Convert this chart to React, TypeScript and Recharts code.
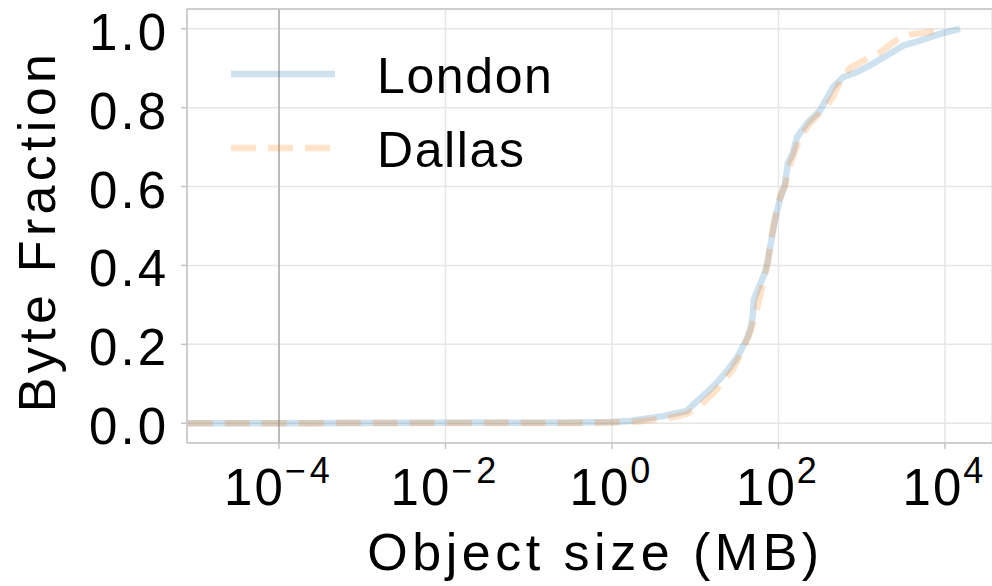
import React from "react";
import {
  LineChart,
  Line,
  XAxis,
  YAxis,
  CartesianGrid,
  ReferenceLine,
  Legend,
} from "recharts";

if (typeof document !== "undefined") {
  document.body.style.margin = "0";
}

const FONT = "'Liberation Sans', Arial, Helvetica, sans-serif";

// Object size (MB) and cumulative byte fraction
const londonSize = [
  8e-6, 0.41, 1.0, 1.64, 4.1, 7.9, 10.5, 13.8, 18.2, 24, 31.7, 37.5, 43, 46.8,
  49.4, 50.5, 56.8, 68.9, 74.8, 83.6, 90.8, 104, 120, 130, 149, 167, 220, 316,
  452, 596, 877, 1256, 2010, 3126, 5010, 8710, 15140,
];
const londonFrac = [
  0, 0.002, 0.003, 0.006, 0.018, 0.031, 0.056, 0.078, 0.103, 0.132, 0.166, 0.195,
  0.22, 0.246, 0.28, 0.313, 0.34, 0.382, 0.414, 0.473, 0.516, 0.566, 0.608, 0.66,
  0.685, 0.725, 0.76, 0.793, 0.852, 0.877, 0.89, 0.907, 0.932, 0.957, 0.97,
  0.987, 1.0,
];

const dallasSize = [
  8e-6, 0.41, 1.0, 2.0, 4.5, 8, 11.4, 18.2, 28.4, 37.5, 45.5, 52.2, 58, 72.8,
  83.6, 98.6, 110, 120, 130, 149, 181, 239, 361, 452, 580, 723, 1256, 1656, 3126,
  7180, 10000,
];
const dallasFrac = [
  0, 0.001, 0.002, 0.004, 0.012, 0.024, 0.044, 0.086, 0.137, 0.187, 0.23, 0.27,
  0.31, 0.397, 0.48, 0.558, 0.585, 0.6, 0.643, 0.675, 0.725, 0.76, 0.8, 0.827,
  0.877, 0.9, 0.928, 0.94, 0.983, 0.993, 1.0,
];

const xTicks = [1e-4, 1e-2, 1, 1e2, 1e4];
const yTicks = [0, 0.2, 0.4, 0.6, 0.8, 1.0];
const X_MIN = Math.pow(10, -5.105);
const X_MAX = Math.pow(10, 4.565);
const Y_MIN = -0.05;
const Y_MAX = 1.05;

const londonData = londonSize.map((s, i) => ({ size: s, frac: londonFrac[i] }));
const dallasData = dallasSize.map((s, i) => ({ size: s, frac: dallasFrac[i] }));

const SERIES = [
  { name: "London", data: londonData, color: "#1f77b4", dash: undefined as string | undefined },
  { name: "Dallas", data: dallasData, color: "#ff7f0e", dash: "25 12" },
];

const LINE_OPACITY = 0.22;
const LINE_WIDTH = 6.5;
const SPINE = "#c4c4c4";

const XTick = (props: any) => {
  const { x, y, payload } = props;
  const exp = Math.round(Math.log10(payload.value));
  const expStr = exp < 0 ? "\u2212" + String(-exp) : String(exp);
  return (
    <text
      x={x}
      y={y + 56}
      textAnchor="middle"
      fontFamily={FONT}
      fontSize={51}
      fill="#000"
    >
      <tspan letterSpacing={2}>10</tspan>
      <tspan dy={-22} fontSize={36} letterSpacing={4}>
        {expStr}
      </tspan>
    </text>
  );
};

const YTick = (props: any) => {
  const { x, y, payload } = props;
  return (
    <text
      x={x - 10}
      y={y + 21}
      textAnchor="end"
      fontFamily={FONT}
      fontSize={51}
      letterSpacing={3}
      fill="#000"
    >
      {Number(payload.value).toFixed(1)}
    </text>
  );
};

const XLabel = (props: any) => {
  const vb = props.viewBox || { x: 187, y: 443, width: 805, height: 143 };
  return (
    <text
      x={vb.x + vb.width / 2 + 6}
      y={vb.y + 127}
      textAnchor="middle"
      fontFamily={FONT}
      fontSize={52}
      letterSpacing={4.5}
      fill="#000"
    >
      Object size (MB)
    </text>
  );
};

const YLabel = (props: any) => {
  const vb = props.viewBox || { x: 0, y: 9, width: 187, height: 434 };
  const cx = 55;
  const cy = vb.y + vb.height / 2 + 5;
  return (
    <text
      x={cx}
      y={cy}
      transform={`rotate(-90, ${cx}, ${cy})`}
      textAnchor="middle"
      fontFamily={FONT}
      fontSize={52}
      letterSpacing={4.3}
      fill="#000"
    >
      Byte Fraction
    </text>
  );
};

const LegendContent = (props: any) => {
  const payload: any[] = props.payload || [];
  const rows = SERIES.filter((s) => payload.length === 0 || payload.some((p) => p.value === s.name));
  return (
    <svg width={420} height={180} style={{ display: "block" }}>
      {rows.map((s, i) => {
        const ly = 54 + 74 * i;
        return (
          <g key={s.name}>
            <line
              x1={31}
              x2={135}
              y1={ly}
              y2={ly}
              stroke={s.color}
              strokeOpacity={LINE_OPACITY}
              strokeWidth={LINE_WIDTH}
              strokeDasharray={s.dash}
            />
            <text
              x={177}
              y={ly + 19}
              fontFamily={FONT}
              fontSize={50}
              letterSpacing={1.6}
              fill="#000"
            >
              {s.name}
            </text>
          </g>
        );
      })}
    </svg>
  );
};

export default function App() {
  return (
    <div style={{ width: 992, height: 586, background: "#fff" }}>
      <LineChart
        width={992}
        height={586}
        margin={{ top: 9, right: 0, bottom: 0, left: 0 }}
      >
        <CartesianGrid stroke="#e6e6e6" strokeWidth={1.5} />
        <XAxis
          dataKey="size"
          type="number"
          scale="log"
          domain={[X_MIN, X_MAX]}
          allowDataOverflow
          ticks={xTicks}
          tick={<XTick />}
          height={143}
          axisLine={{ stroke: SPINE, strokeWidth: 1.5 }}
          tickLine={{ stroke: SPINE, strokeWidth: 1.5 }}
          tickSize={6}
          tickMargin={0}
          label={<XLabel />}
        />
        <YAxis
          type="number"
          domain={[Y_MIN, Y_MAX]}
          allowDataOverflow
          ticks={yTicks}
          tick={<YTick />}
          width={187}
          axisLine={{ stroke: SPINE, strokeWidth: 1.5 }}
          tickLine={{ stroke: SPINE, strokeWidth: 1.5 }}
          tickSize={6}
          tickMargin={2}
          label={<YLabel />}
        />
        <ReferenceLine x={1e-4} stroke="#ababab" strokeWidth={1.5} />
        <ReferenceLine
          y={Y_MAX}
          stroke={SPINE}
          strokeWidth={1.5}
          ifOverflow="visible"
        />
        {SERIES.map((s) => (
          <Line
            key={s.name}
            name={s.name}
            data={s.data}
            dataKey="frac"
            type="linear"
            stroke={s.color}
            strokeOpacity={LINE_OPACITY}
            strokeWidth={LINE_WIDTH}
            strokeDasharray={s.dash}
            dot={false}
            activeDot={false}
            isAnimationActive={false}
          />
        ))}
        <Legend
          layout="vertical"
          align="center"
          verticalAlign="middle"
          content={<LegendContent />}
          wrapperStyle={{ left: 200, top: 20, width: 420, height: 180 }}
        />
      </LineChart>
    </div>
  );
}
